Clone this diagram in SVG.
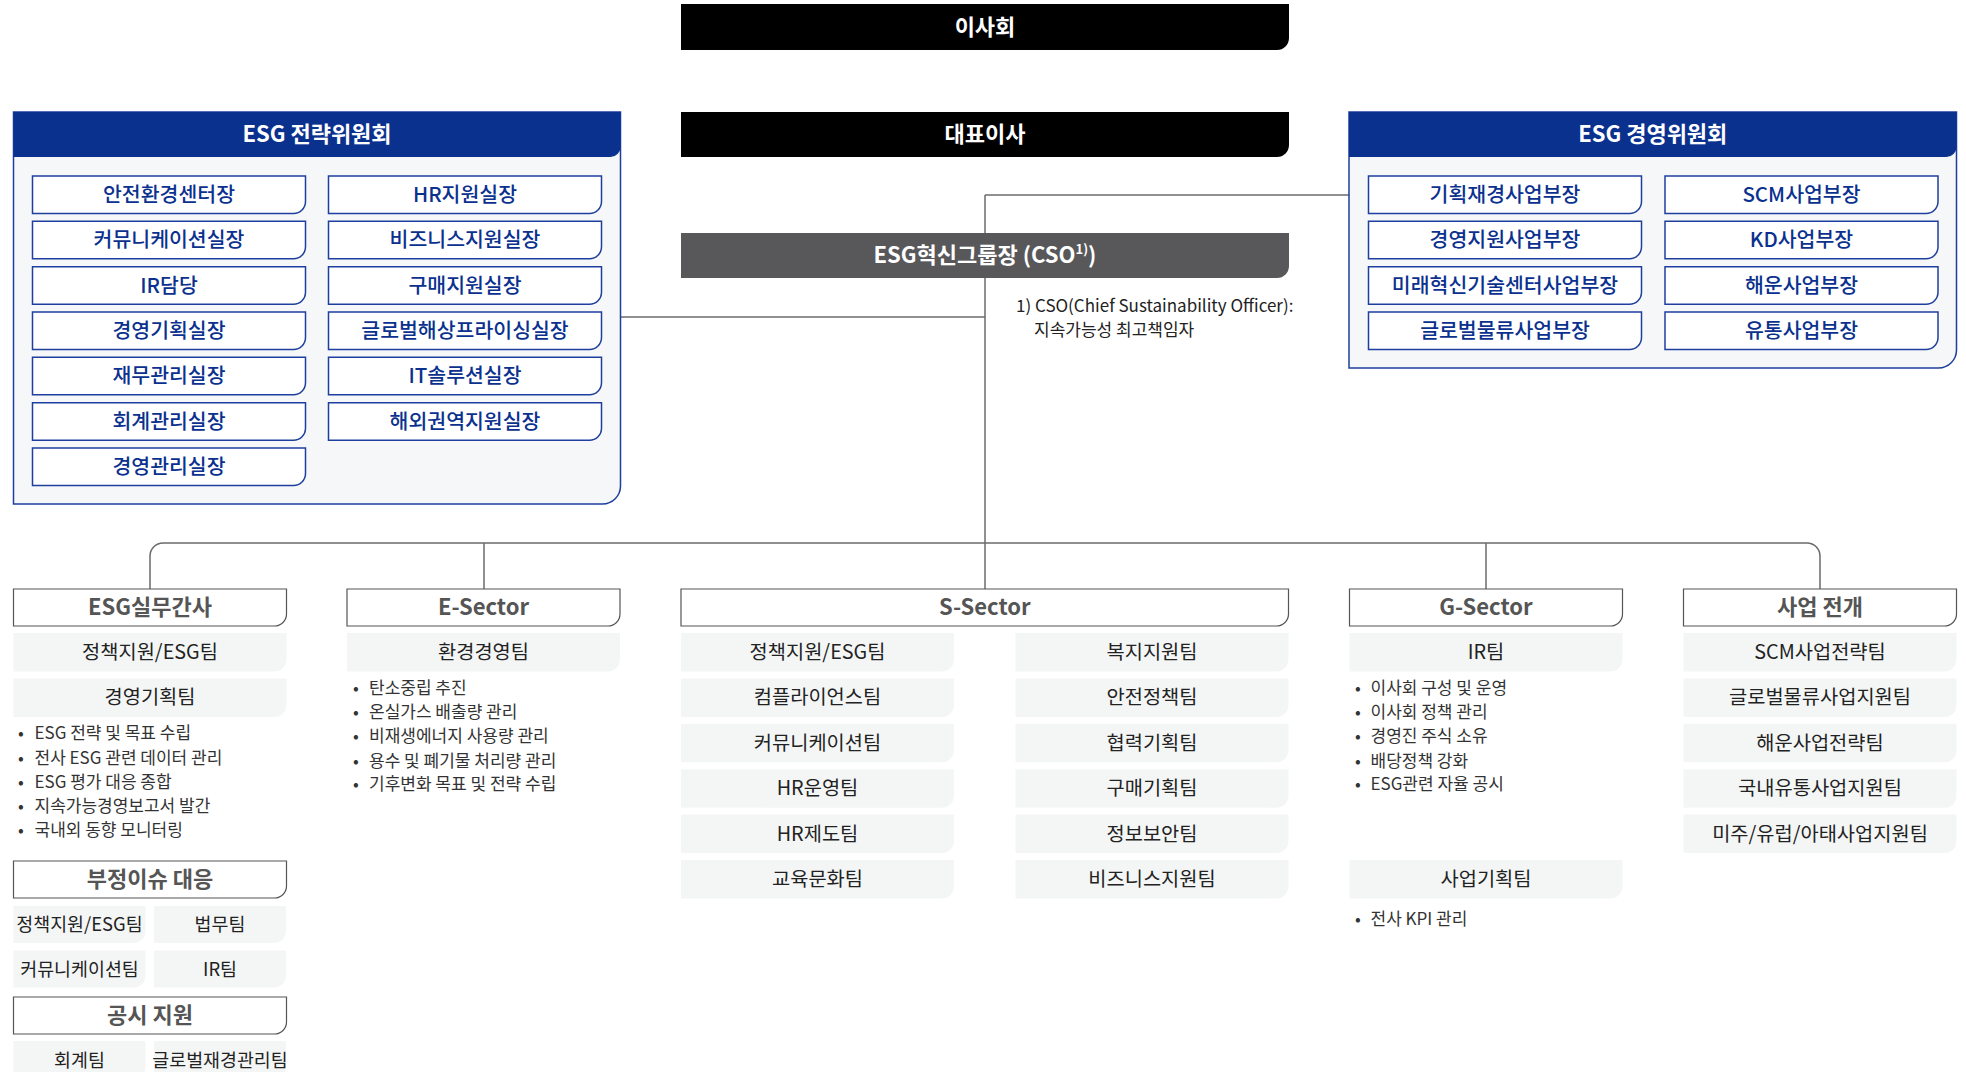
<svg xmlns="http://www.w3.org/2000/svg" xmlns:xlink="http://www.w3.org/1999/xlink" width="1966" height="1072" viewBox="0 0 1966 1072">
<style>
text{font-family:"Noto Sans CJK KR","Noto Sans",sans-serif}
.blk{fill:#000}
.cso{fill:#58585a}
.wt{fill:#fff;font-size:22px;font-weight:700;text-anchor:middle}
.panel{fill:#f5f7f8;stroke:#1e3f9e;stroke-width:1.5}
.phead{fill:#0b318f}
.ib{fill:#fff;stroke:#1e3f9e;stroke-width:1.5}
.bt{fill:#0b318f;font-size:20.5px;font-weight:500;text-anchor:middle}
.hb{fill:#fff;stroke:#555;stroke-width:1.2}
.ht{fill:#555;font-size:22px;font-weight:700;text-anchor:middle}
.tb{fill:#f4f6f6}
.tt{fill:#222;font-size:19.8px;text-anchor:middle}
.tt2{fill:#222;font-size:18.4px;text-anchor:middle}
.bl{fill:#333;font-size:17px}
.fn{fill:#222;font-size:17px}
.ln{fill:none;stroke:#6b6b6b;stroke-width:1.5}
</style>
<defs>
<path id="ibox" d="M0 0H273V25.5A12 12 0 0 1 261 37.5H0Z"/>
<path id="tbox" d="M0 0H273V26.5A12 12 0 0 1 261 38.5H0Z"/>
<path id="hbox" d="M0 0H273V25A12 12 0 0 1 261 37H0Z"/>
<path id="half" d="M0 0H132V25A12 12 0 0 1 120 37H0Z"/>
<path id="halft" d="M0 0H132V26.5A12 12 0 0 1 120 38.5H0Z"/>
</defs>

<g id="connectors">
<path class="ln" d="M985 195H1349"/>
<path class="ln" d="M985 195V589"/>
<path class="ln" d="M620.5 317H985"/>
<path class="ln" d="M150 589V556A13 13 0 0 1 163 543H1807A13 13 0 0 1 1820 556V589"/>
<path class="ln" d="M484 543V589"/>
<path class="ln" d="M1486 543V589"/>
</g>

<g id="board">
<path class="blk" d="M681 4H1289V38A12 12 0 0 1 1277 50H681Z"/>
<text class="wt" x="985" y="34.5">이사회</text>
</g>
<g id="ceo">
<path class="blk" d="M681 112H1289V145A12 12 0 0 1 1277 157H681Z"/>
<text class="wt" x="985" y="142">대표이사</text>
</g>
<g id="cso">
<path class="cso" d="M681 233H1289V266A12 12 0 0 1 1277 278H681Z"/>
<text class="wt" x="985" y="263">ESG혁신그룹장 (CSO<tspan font-size="13" dy="-9">1)</tspan><tspan dy="9">)</tspan></text>
</g>
<g id="footnote">
<text class="fn" x="1016" y="311.5">1) CSO(Chief Sustainability Officer):</text>
<text class="fn" x="1034" y="336">지속가능성 최고책임자</text>
</g>

<g id="esg-strategy-committee">
<path class="panel" d="M13.5 112H620.5V486A18 18 0 0 1 602.5 504H13.5Z"/>
<path class="phead" d="M13.5 112H620.5V147A10 10 0 0 1 610.5 157H13.5Z"/>
<text class="wt" x="317" y="142">ESG 전략위원회</text>
<g id="sc-l1"><use href="#ibox" class="ib" x="32.5" y="176"/><text class="bt" x="169" y="201.8">안전환경센터장</text></g>
<g id="sc-l2"><use href="#ibox" class="ib" x="32.5" y="221.3"/><text class="bt" x="169" y="247.1">커뮤니케이션실장</text></g>
<g id="sc-l3"><use href="#ibox" class="ib" x="32.5" y="266.7"/><text class="bt" x="169" y="292.5">IR담당</text></g>
<g id="sc-l4"><use href="#ibox" class="ib" x="32.5" y="312"/><text class="bt" x="169" y="337.8">경영기획실장</text></g>
<g id="sc-l5"><use href="#ibox" class="ib" x="32.5" y="357.3"/><text class="bt" x="169" y="383.1">재무관리실장</text></g>
<g id="sc-l6"><use href="#ibox" class="ib" x="32.5" y="402.7"/><text class="bt" x="169" y="428.5">회계관리실장</text></g>
<g id="sc-l7"><use href="#ibox" class="ib" x="32.5" y="448"/><text class="bt" x="169" y="473.8">경영관리실장</text></g>
<g id="sc-r1"><use href="#ibox" class="ib" x="328.5" y="176"/><text class="bt" x="465" y="201.8">HR지원실장</text></g>
<g id="sc-r2"><use href="#ibox" class="ib" x="328.5" y="221.3"/><text class="bt" x="465" y="247.1">비즈니스지원실장</text></g>
<g id="sc-r3"><use href="#ibox" class="ib" x="328.5" y="266.7"/><text class="bt" x="465" y="292.5">구매지원실장</text></g>
<g id="sc-r4"><use href="#ibox" class="ib" x="328.5" y="312"/><text class="bt" x="465" y="337.8">글로벌해상프라이싱실장</text></g>
<g id="sc-r5"><use href="#ibox" class="ib" x="328.5" y="357.3"/><text class="bt" x="465" y="383.1">IT솔루션실장</text></g>
<g id="sc-r6"><use href="#ibox" class="ib" x="328.5" y="402.7"/><text class="bt" x="465" y="428.5">해외권역지원실장</text></g>
</g>

<g id="esg-management-committee">
<path class="panel" d="M1349 112H1956.5V350A18 18 0 0 1 1938.5 368H1349Z"/>
<path class="phead" d="M1349 112H1956.5V147A10 10 0 0 1 1946.5 157H1349Z"/>
<text class="wt" x="1652.75" y="142">ESG 경영위원회</text>
<g id="mc-l1"><use href="#ibox" class="ib" x="1368.5" y="176"/><text class="bt" x="1505" y="201.8">기획재경사업부장</text></g>
<g id="mc-l2"><use href="#ibox" class="ib" x="1368.5" y="221.3"/><text class="bt" x="1505" y="247.1">경영지원사업부장</text></g>
<g id="mc-l3"><use href="#ibox" class="ib" x="1368.5" y="266.7"/><text class="bt" x="1505" y="292.5">미래혁신기술센터사업부장</text></g>
<g id="mc-l4"><use href="#ibox" class="ib" x="1368.5" y="312"/><text class="bt" x="1505" y="337.8">글로벌물류사업부장</text></g>
<g id="mc-r1"><use href="#ibox" class="ib" x="1665" y="176"/><text class="bt" x="1801.5" y="201.8">SCM사업부장</text></g>
<g id="mc-r2"><use href="#ibox" class="ib" x="1665" y="221.3"/><text class="bt" x="1801.5" y="247.1">KD사업부장</text></g>
<g id="mc-r3"><use href="#ibox" class="ib" x="1665" y="266.7"/><text class="bt" x="1801.5" y="292.5">해운사업부장</text></g>
<g id="mc-r4"><use href="#ibox" class="ib" x="1665" y="312"/><text class="bt" x="1801.5" y="337.8">유통사업부장</text></g>
</g>

<g id="esg-working">
<use href="#hbox" class="hb" x="13.5" y="589"/>
<text class="ht" x="150" y="615.3">ESG실무간사</text>
<g id="w1"><use href="#tbox" class="tb" x="13.5" y="633"/><text class="tt" x="150" y="659">정책지원/ESG팀</text></g>
<g id="w2"><use href="#tbox" class="tb" x="13.5" y="678.4"/><text class="tt" x="150" y="704.4">경영기획팀</text></g>
<text class="bl" y="739"><tspan x="18">•</tspan><tspan x="34.5">ESG 전략 및 목표 수립</tspan></text>
<text class="bl" y="763.5"><tspan x="18">•</tspan><tspan x="34.5">전사 ESG 관련 데이터 관리</tspan></text>
<text class="bl" y="787.5"><tspan x="18">•</tspan><tspan x="34.5">ESG 평가 대응 종합</tspan></text>
<text class="bl" y="811.5"><tspan x="18">•</tspan><tspan x="34.5">지속가능경영보고서 발간</tspan></text>
<text class="bl" y="835.5"><tspan x="18">•</tspan><tspan x="34.5">국내외 동향 모니터링</tspan></text>
</g>
<g id="misconduct">
<use href="#hbox" class="hb" x="13.5" y="861"/>
<text class="ht" x="150" y="887.3">부정이슈 대응</text>
<g id="m1"><use href="#half" class="tb" x="13.5" y="906"/><text class="tt2" x="79.5" y="931">정책지원/ESG팀</text></g>
<g id="m2"><use href="#half" class="tb" x="154" y="906"/><text class="tt2" x="220" y="931">법무팀</text></g>
<g id="m3"><use href="#half" class="tb" x="13.5" y="950.5"/><text class="tt2" x="79.5" y="975.5">커뮤니케이션팀</text></g>
<g id="m4"><use href="#half" class="tb" x="154" y="950.5"/><text class="tt2" x="220" y="975.5">IR팀</text></g>
</g>
<g id="disclosure">
<use href="#hbox" class="hb" x="13.5" y="997"/>
<text class="ht" x="150" y="1023.3">공시 지원</text>
<g id="d1"><use href="#halft" class="tb" x="13.5" y="1041"/><text class="tt2" x="79.5" y="1066.8">회계팀</text></g>
<g id="d2"><use href="#halft" class="tb" x="154" y="1041"/><text class="tt2" x="220" y="1066.8" font-size="16.8">글로벌재경관리팀</text></g>
</g>

<g id="e-sector">
<use href="#hbox" class="hb" x="347" y="589"/>
<text class="ht" x="483.5" y="615.3">E-Sector</text>
<g id="e1"><use href="#tbox" class="tb" x="347" y="633"/><text class="tt" x="483.5" y="659">환경경영팀</text></g>
<text class="bl" y="694.3"><tspan x="353">•</tspan><tspan x="369">탄소중립 추진</tspan></text>
<text class="bl" y="718"><tspan x="353">•</tspan><tspan x="369">온실가스 배출량 관리</tspan></text>
<text class="bl" y="742"><tspan x="353">•</tspan><tspan x="369">비재생에너지 사용량 관리</tspan></text>
<text class="bl" y="766.5"><tspan x="353">•</tspan><tspan x="369">용수 및 폐기물 처리량 관리</tspan></text>
<text class="bl" y="790"><tspan x="353">•</tspan><tspan x="369">기후변화 목표 및 전략 수립</tspan></text>
</g>

<g id="s-sector">
<path class="hb" d="M681 589H1288.5V614A12 12 0 0 1 1276.5 626H681Z"/>
<text class="ht" x="984.75" y="615.3">S-Sector</text>
<g id="s-l1"><use href="#tbox" class="tb" x="681" y="633"/><text class="tt" x="817.5" y="659">정책지원/ESG팀</text></g>
<g id="s-l2"><use href="#tbox" class="tb" x="681" y="678.4"/><text class="tt" x="817.5" y="704.4">컴플라이언스팀</text></g>
<g id="s-l3"><use href="#tbox" class="tb" x="681" y="723.8"/><text class="tt" x="817.5" y="749.8">커뮤니케이션팀</text></g>
<g id="s-l4"><use href="#tbox" class="tb" x="681" y="769.2"/><text class="tt" x="817.5" y="795.2">HR운영팀</text></g>
<g id="s-l5"><use href="#tbox" class="tb" x="681" y="814.6"/><text class="tt" x="817.5" y="840.6">HR제도팀</text></g>
<g id="s-l6"><use href="#tbox" class="tb" x="681" y="860"/><text class="tt" x="817.5" y="886">교육문화팀</text></g>
<g id="s-r1"><use href="#tbox" class="tb" x="1015.5" y="633"/><text class="tt" x="1152" y="659">복지지원팀</text></g>
<g id="s-r2"><use href="#tbox" class="tb" x="1015.5" y="678.4"/><text class="tt" x="1152" y="704.4">안전정책팀</text></g>
<g id="s-r3"><use href="#tbox" class="tb" x="1015.5" y="723.8"/><text class="tt" x="1152" y="749.8">협력기획팀</text></g>
<g id="s-r4"><use href="#tbox" class="tb" x="1015.5" y="769.2"/><text class="tt" x="1152" y="795.2">구매기획팀</text></g>
<g id="s-r5"><use href="#tbox" class="tb" x="1015.5" y="814.6"/><text class="tt" x="1152" y="840.6">정보보안팀</text></g>
<g id="s-r6"><use href="#tbox" class="tb" x="1015.5" y="860"/><text class="tt" x="1152" y="886">비즈니스지원팀</text></g>
</g>

<g id="g-sector">
<use href="#hbox" class="hb" x="1349.5" y="589"/>
<text class="ht" x="1486" y="615.3">G-Sector</text>
<g id="g1"><use href="#tbox" class="tb" x="1349.5" y="633"/><text class="tt" x="1486" y="659">IR팀</text></g>
<text class="bl" y="694.3"><tspan x="1355">•</tspan><tspan x="1370.5">이사회 구성 및 운영</tspan></text>
<text class="bl" y="718"><tspan x="1355">•</tspan><tspan x="1370.5">이사회 정책 관리</tspan></text>
<text class="bl" y="742"><tspan x="1355">•</tspan><tspan x="1370.5">경영진 주식 소유</tspan></text>
<text class="bl" y="766.5"><tspan x="1355">•</tspan><tspan x="1370.5">배당정책 강화</tspan></text>
<text class="bl" y="790"><tspan x="1355">•</tspan><tspan x="1370.5">ESG관련 자율 공시</tspan></text>
<g id="g2"><use href="#tbox" class="tb" x="1349.5" y="860"/><text class="tt" x="1486" y="886">사업기획팀</text></g>
<text class="bl" y="925"><tspan x="1355">•</tspan><tspan x="1370.5">전사 KPI 관리</tspan></text>
</g>

<g id="business">
<use href="#hbox" class="hb" x="1683.5" y="589"/>
<text class="ht" x="1820" y="615.3">사업 전개</text>
<g id="b1"><use href="#tbox" class="tb" x="1683.5" y="633"/><text class="tt" x="1820" y="659">SCM사업전략팀</text></g>
<g id="b2"><use href="#tbox" class="tb" x="1683.5" y="678.4"/><text class="tt" x="1820" y="704.4">글로벌물류사업지원팀</text></g>
<g id="b3"><use href="#tbox" class="tb" x="1683.5" y="723.8"/><text class="tt" x="1820" y="749.8">해운사업전략팀</text></g>
<g id="b4"><use href="#tbox" class="tb" x="1683.5" y="769.2"/><text class="tt" x="1820" y="795.2">국내유통사업지원팀</text></g>
<g id="b5"><use href="#tbox" class="tb" x="1683.5" y="814.6"/><text class="tt" x="1820" y="840.6">미주/유럽/아태사업지원팀</text></g>
</g>
</svg>
